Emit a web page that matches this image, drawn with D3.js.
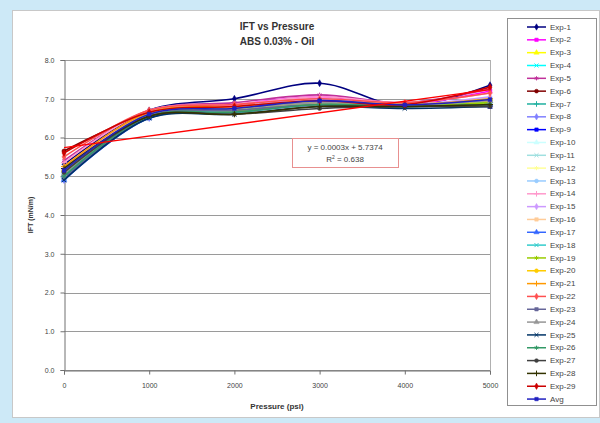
<!DOCTYPE html>
<html>
<head>
<meta charset="utf-8">
<script src="https://cdn.jsdelivr.net/npm/d3@7"></script>
<style>
  body { margin: 0; background: #cde9f7; }
  svg { display: block; font-family: "Liberation Sans", Arial, sans-serif; }
</style>
</head>
<body>
<div id="chart"></div>
<script>
// pressure steps (psi)
const pressures = [0, 1000, 2000, 3000, 4000, 5000];
const yTicks = [0, 1, 2, 3, 4, 5, 6, 7, 8];

const seriesNames = [
  'Exp-1','Exp-2','Exp-3','Exp-4','Exp-5','Exp-6','Exp-7','Exp-8','Exp-9','Exp-10',
  'Exp-11','Exp-12','Exp-13','Exp-14','Exp-15','Exp-16','Exp-17','Exp-18','Exp-19','Exp-20',
  'Exp-21','Exp-22','Exp-23','Exp-24','Exp-25','Exp-26','Exp-27','Exp-28','Exp-29','Avg'
];

// IFT (mN/m), one row per series
const ift = [
  [5.30, 6.70, 7.00, 7.40, 6.80, 7.35],
  [5.05, 6.65, 6.85, 7.05, 6.85, 7.20],
  [5.15, 6.60, 6.75, 6.95, 6.85, 7.00],
  [4.95, 6.55, 6.70, 6.90, 6.80, 6.95],
  [5.40, 6.70, 6.90, 7.10, 6.90, 7.25],
  [5.65, 6.60, 6.70, 6.85, 6.85, 6.80],
  [5.00, 6.55, 6.65, 6.85, 6.80, 6.90],
  [4.90, 6.50, 6.70, 6.90, 6.80, 6.85],
  [4.95, 6.55, 6.75, 6.95, 6.85, 6.80],
  [5.10, 6.60, 6.80, 7.00, 6.85, 7.05],
  [5.20, 6.65, 6.80, 6.95, 6.85, 6.95],
  [5.25, 6.60, 6.75, 6.90, 6.80, 6.90],
  [5.05, 6.55, 6.70, 6.95, 6.85, 7.00],
  [5.35, 6.70, 6.85, 7.05, 6.90, 7.15],
  [5.20, 6.65, 6.80, 7.00, 6.85, 7.05],
  [5.15, 6.60, 6.75, 6.90, 6.80, 6.95],
  [4.90, 6.50, 6.65, 6.85, 6.80, 6.85],
  [5.00, 6.55, 6.70, 6.90, 6.85, 6.90],
  [5.10, 6.60, 6.70, 6.85, 6.80, 6.90],
  [5.15, 6.60, 6.75, 6.90, 6.85, 6.95],
  [5.25, 6.65, 6.80, 6.95, 6.85, 7.00],
  [5.50, 6.70, 6.85, 7.00, 6.90, 7.15],
  [4.95, 6.55, 6.70, 6.85, 6.80, 6.85],
  [5.05, 6.60, 6.75, 6.90, 6.85, 6.95],
  [4.90, 6.50, 6.60, 6.80, 6.75, 6.80],
  [5.00, 6.55, 6.65, 6.85, 6.80, 6.85],
  [5.10, 6.55, 6.60, 6.75, 6.80, 6.80],
  [5.20, 6.55, 6.60, 6.80, 6.80, 6.85],
  [5.60, 6.65, 6.80, 6.95, 6.85, 7.30],
  [5.15, 6.60, 6.75, 6.95, 6.84, 6.98]
];

const seriesColors = [
  '#000080','#ff00ff','#ffff00','#00ffff','#c0309a','#800000','#20b0a0','#8080ff','#0000ff','#ccffff',
  '#a0e0e0','#ffff99','#99ccff','#ff99cc','#cc99ff','#ffcc99','#3366ff','#33cccc','#99cc00','#ffcc00',
  '#ff9900','#ff5050','#666699','#969696','#003366','#339966','#404040','#333300','#cc0000','#2020c0'
];

// linear trend line shown on the chart
const trendSlope = 0.0003;
const trendIntercept = 5.7374;
const trendR2 = 0.638;

const W = 600, H = 423;
const margin = {top: 60, right: 110, bottom: 53, left: 64};
const width = 490 - margin.left;
const height = 370 - margin.top;

const svg = d3.select('#chart').append('svg')
  .attr('width', W)
  .attr('height', H);

// chart area panel
svg.append('rect')
  .attr('x', 12.5).attr('y', 10.5)
  .attr('width', 587).attr('height', 407)
  .attr('fill', '#fff')
  .attr('stroke', '#c8c8c8');

const g = svg.append('g')
  .attr('transform', 'translate(' + margin.left + ',' + margin.top + ')');

const x = d3.scaleLinear().domain([0, 5000]).range([0, width]);
const y = d3.scaleLinear().domain([0, 8]).range([height, 0]);

// gridlines
g.append('g')
  .selectAll('line')
  .data(yTicks)
  .enter().append('line')
  .attr('x1', 0).attr('x2', width)
  .attr('y1', d => Math.round(y(d)) + 0.5)
  .attr('y2', d => Math.round(y(d)) + 0.5)
  .attr('stroke', '#9a9a9a')
  .attr('stroke-width', 1);

// plot area right border
g.append('line')
  .attr('x1', width + 0.5).attr('x2', width + 0.5)
  .attr('y1', 0).attr('y2', height)
  .attr('stroke', '#b0b0b0');

const xAxis = d3.axisBottom(x).tickValues(pressures).tickSize(4).tickPadding(9)
  .tickFormat(d3.format('d'));
const yAxis = d3.axisLeft(y).tickValues(yTicks).tickSize(4).tickPadding(6)
  .tickFormat(d3.format('.1f'));

const gx = g.append('g')
  .attr('transform', 'translate(0,' + (Math.round(height) + 0.5) + ')')
  .call(xAxis);
const gy = g.append('g')
  .attr('transform', 'translate(0.5,0)')
  .call(yAxis);

[gx, gy].forEach(a => {
  a.select('.domain').attr('stroke', '#707070');
  a.selectAll('.tick line').attr('stroke', '#707070');
  a.selectAll('text').attr('fill', '#444').style('font-size', '7px')
    .style('font-family', '"Liberation Sans", Arial, sans-serif');
});

const line = d3.line()
  .x(d => x(d.p))
  .y(d => y(d.v))
  .curve(d3.curveCatmullRom.alpha(0.5));

const symbolTypes = [d3.symbolDiamond, d3.symbolSquare, d3.symbolTriangle, d3.symbolX,
  d3.symbolAsterisk, d3.symbolCircle, d3.symbolPlus];
const strokeSymbols = [d3.symbolX, d3.symbolAsterisk, d3.symbolPlus];

const series = seriesNames.map((name, i) => ({
  name: name,
  color: seriesColors[i],
  symbol: symbolTypes[i % symbolTypes.length],
  values: pressures.map((p, j) => ({p: p, v: ift[i][j]}))
}));

function drawMarker(sel, s, size) {
  const isStroke = strokeSymbols.includes(s.symbol);
  sel.attr('d', d3.symbol().type(s.symbol).size(size))
    .attr('fill', isStroke ? 'none' : s.color)
    .attr('stroke', s.color)
    .attr('stroke-width', isStroke ? 1 : 0.5);
}

series.forEach(s => {
  const sg = g.append('g');
  sg.append('path')
    .attr('d', line(s.values))
    .attr('fill', 'none')
    .attr('stroke', s.color)
    .attr('stroke-width', 1.6);
  sg.selectAll('path.mk')
    .data(s.values)
    .enter().append('path')
    .attr('class', 'mk')
    .attr('transform', d => 'translate(' + x(d.p) + ',' + y(d.v) + ')')
    .call(sel => drawMarker(sel, s, 14));
});

// trend line
g.append('line')
  .attr('x1', x(0)).attr('y1', y(trendIntercept))
  .attr('x2', x(5000)).attr('y2', y(trendIntercept + trendSlope * 5000))
  .attr('stroke', '#ff0000')
  .attr('stroke-width', 1.3);

// trend label box
const lb = svg.append('g').attr('transform', 'translate(292,138)');
lb.append('rect')
  .attr('x', 0.5).attr('y', 0.5)
  .attr('width', 106).attr('height', 29)
  .attr('fill', '#fff')
  .attr('stroke', '#e89090');
lb.append('text')
  .attr('x', 53).attr('y', 12)
  .attr('text-anchor', 'middle')
  .style('font-size', '8px').attr('fill', '#444')
  .text('y = ' + trendSlope.toFixed(4) + 'x + ' + trendIntercept.toFixed(4));
const r2 = lb.append('text')
  .attr('x', 53).attr('y', 24)
  .attr('text-anchor', 'middle')
  .style('font-size', '8px').attr('fill', '#444');
r2.append('tspan').text('R');
r2.append('tspan').attr('dy', -3).style('font-size', '5px').text('2');
r2.append('tspan').attr('dy', 3).text(' = ' + trendR2.toFixed(3));

// titles
svg.append('text')
  .attr('x', margin.left + width / 2).attr('y', 30)
  .attr('text-anchor', 'middle')
  .style('font-size', '10px').style('font-weight', 'bold').attr('fill', '#333')
  .text('IFT vs Pressure');
svg.append('text')
  .attr('x', margin.left + width / 2).attr('y', 45)
  .attr('text-anchor', 'middle')
  .style('font-size', '10px').style('font-weight', 'bold').attr('fill', '#333')
  .text('ABS 0.03% - Oil');

svg.append('text')
  .attr('x', margin.left + width / 2).attr('y', 409)
  .attr('text-anchor', 'middle')
  .style('font-size', '8px').style('font-weight', 'bold').attr('fill', '#333')
  .text('Pressure (psi)');

svg.append('text')
  .attr('transform', 'translate(33,' + (margin.top + height / 2) + ') rotate(-90)')
  .attr('text-anchor', 'middle')
  .style('font-size', '7px').style('font-weight', 'bold').attr('fill', '#333')
  .text('IFT (mN/m)');

// legend
const legend = svg.append('g').attr('transform', 'translate(507,18)');
legend.append('rect')
  .attr('x', 0.5).attr('y', 0.5)
  .attr('width', 89).attr('height', 387)
  .attr('fill', '#fff')
  .attr('stroke', '#909090');

const rowH = 12.83;
const items = legend.selectAll('g.item')
  .data(series)
  .enter().append('g')
  .attr('class', 'item')
  .attr('transform', (d, i) => 'translate(0,' + (9 + i * rowH) + ')');

items.append('line')
  .attr('x1', 20).attr('x2', 39)
  .attr('stroke', d => d.color)
  .attr('stroke-width', 1.5);
items.append('path')
  .attr('transform', 'translate(29.5,0)')
  .each(function(d) { drawMarker(d3.select(this), d, 12); });
items.append('text')
  .attr('x', 43).attr('dy', '0.33em')
  .style('font-size', '8px').attr('fill', '#444')
  .text(d => d.name);
</script>
</body>
</html>
